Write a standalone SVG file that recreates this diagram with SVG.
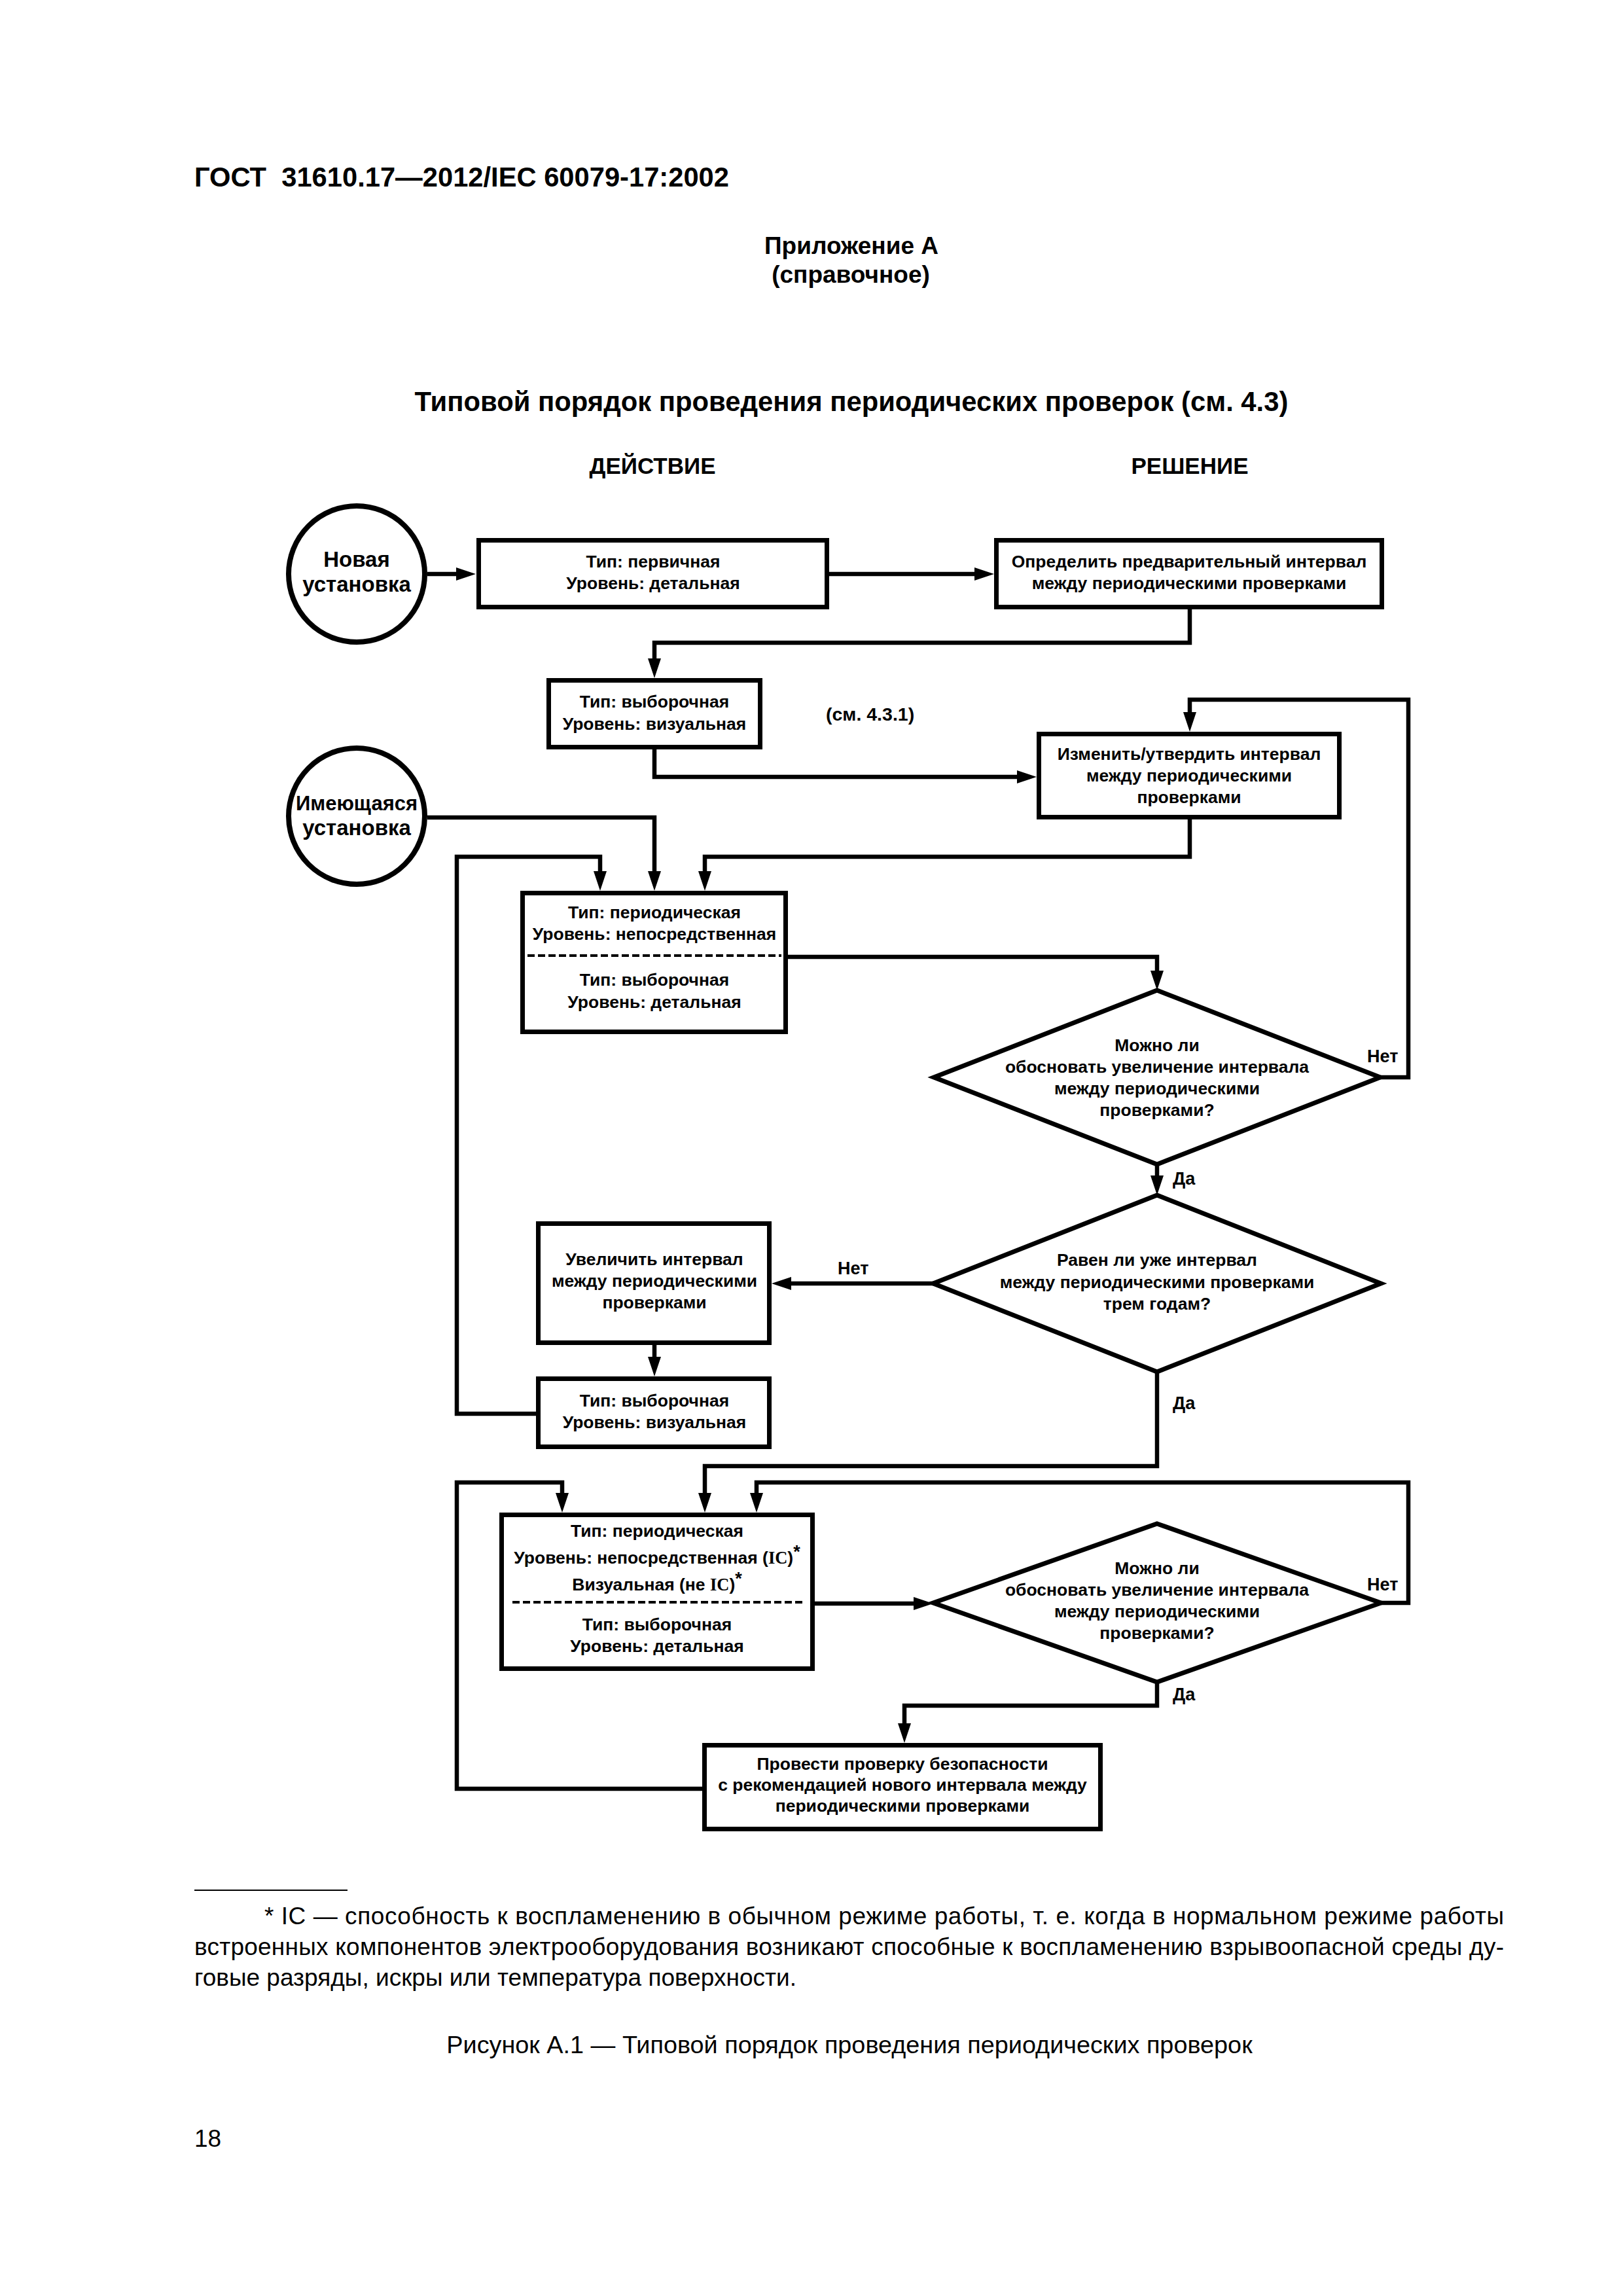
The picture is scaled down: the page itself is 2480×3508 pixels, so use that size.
<svg xmlns="http://www.w3.org/2000/svg" width="2480" height="3508" viewBox="0 0 2480 3508">
<defs>
<style>
.t{font-family:"Liberation Sans",Arial,sans-serif;font-weight:bold;font-size:26.5px;fill:#000;text-anchor:middle}
.c{font-family:"Liberation Sans",Arial,sans-serif;font-weight:bold;font-size:33px;fill:#000;text-anchor:middle}
.lb{font-family:"Liberation Sans",Arial,sans-serif;font-weight:bold;font-size:27px;fill:#000}
.h{font-family:"Liberation Sans",Arial,sans-serif;font-weight:bold;fill:#000}
.r{font-family:"Liberation Sans",Arial,sans-serif;font-size:37px;fill:#000}
.box{fill:#fff;stroke:#000;stroke-width:7}
.circ{fill:#fff;stroke:#000;stroke-width:8}
.dia{fill:#fff;stroke:#000;stroke-width:7;stroke-linejoin:miter}
.dash{stroke:#000;stroke-width:4;stroke-dasharray:11 5}
.ar{fill:none;stroke:#000;stroke-width:6.5;stroke-linejoin:miter;marker-end:url(#ah)}
.sup{font-size:27px}
</style>
<marker id="ah" markerUnits="userSpaceOnUse" markerWidth="30" markerHeight="20" refX="15" refY="10" orient="auto" viewBox="0 0 30 20">
<path d="M0,0 L30,10 L0,20 z" fill="#000"/>
</marker>
</defs>
<rect x="0" y="0" width="2480" height="3508" fill="#fff"/>

<g id="header">
<text class="h" x="297" y="285" style="font-size:41.7px" xml:space="preserve">ГОСТ  31610.17—2012/IEC 60079-17:2002</text>
<text class="h" x="1301" y="388" style="font-size:37px" text-anchor="middle">Приложение А</text>
<text class="h" x="1300" y="432" style="font-size:37px" text-anchor="middle">(справочное)</text>
<text class="h" x="1301" y="628" style="font-size:41.8px" text-anchor="middle">Типовой порядок проведения периодических проверок (см. 4.3)</text>
<text class="h" x="997" y="724" style="font-size:35px" text-anchor="middle">ДЕЙСТВИЕ</text>
<text class="h" x="1818" y="724" style="font-size:35px" text-anchor="middle">РЕШЕНИЕ</text>
</g>

<g id="connectors">
<path class="ar" d="M653,877 H712"/>
<path class="ar" d="M1267,877 H1504"/>
<path class="ar" d="M1818,931 V982 H1000 V1021"/>
<path class="ar" d="M1000,1145 V1187 H1569"/>
<path class="ar" d="M2109,1646 H2152 V1069 H1818 V1103"/>
<path class="ar" d="M653,1249 H1000 V1346"/>
<path class="ar" d="M1818,1252 V1309 H1077 V1346"/>
<path class="ar" d="M819,2160 H698 V1309 H917 V1346"/>
<path class="ar" d="M1204,1462 H1768 V1498"/>
<path class="ar" d="M1768,1779 V1811"/>
<path class="ar" d="M1426,1961 H1194"/>
<path class="ar" d="M1000,2055 V2088"/>
<path class="ar" d="M1768,2096 V2240 H1077 V2296"/>
<path class="ar" d="M1073,2733 H698 V2265 H859 V2296"/>
<path class="ar" d="M2110,2449 H2152 V2265 H1156 V2296"/>
<path class="ar" d="M1245,2450 H1411"/>
<path class="ar" d="M1768,2570 V2606 H1382 V2648"/>
<text class="lb" x="2089" y="1623">Нет</text>
<text class="lb" x="1792" y="1810">Да</text>
<text class="lb" x="1280" y="1947">Нет</text>
<text class="lb" x="1792" y="2153">Да</text>
<text class="lb" x="2089" y="2430">Нет</text>
<text class="lb" x="1792" y="2598">Да</text>
</g>

<g id="n_new">
<circle class="circ" cx="545" cy="877" r="104"/>
<text class="c" x="545" y="866">Новая</text>
<text class="c" x="545" y="904">установка</text>
</g>

<g id="n_primary">
<rect class="box" x="731.5" y="825.5" width="532" height="102"/>
<text class="t" x="998" y="867">Тип: первичная</text>
<text class="t" x="998" y="900">Уровень: детальная</text>
</g>

<g id="n_define">
<rect class="box" x="1522.5" y="825.5" width="589" height="102"/>
<text class="t" x="1817" y="867">Определить предварительный интервал</text>
<text class="t" x="1817" y="900">между периодическими проверками</text>
</g>

<g id="n_sample_visual1">
<rect class="box" x="838.5" y="1039.5" width="323" height="102"/>
<text class="t" x="1000" y="1081">Тип: выборочная</text>
<text class="t" x="1000" y="1115">Уровень: визуальная</text>
</g>

<g id="n_ref">
<text class="lb" x="1262" y="1101" style="font-size:28.5px">(см. 4.3.1)</text>
</g>

<g id="n_change">
<rect class="box" x="1587.5" y="1121.5" width="459" height="127"/>
<text class="t" x="1817" y="1161">Изменить/утвердить интервал</text>
<text class="t" x="1817" y="1194">между периодическими</text>
<text class="t" x="1817" y="1227">проверками</text>
</g>

<g id="n_existing">
<circle class="circ" cx="545" cy="1247" r="104"/>
<text class="c" x="545" y="1238" style="font-size:31px">Имеющаяся</text>
<text class="c" x="545" y="1276">установка</text>
</g>

<g id="n_periodic1">
<rect class="box" x="798.5" y="1364.5" width="402" height="212"/>
<text class="t" x="1000" y="1403">Тип: периодическая</text>
<text class="t" x="1000" y="1436">Уровень: непосредственная</text>
<line class="dash" x1="806" y1="1460" x2="1194" y2="1460"/>
<text class="t" x="1000" y="1506">Тип: выборочная</text>
<text class="t" x="1000" y="1540">Уровень: детальная</text>
</g>

<g id="n_dec1">
<polygon class="dia" points="1768,1513 2109,1646 1768,1779 1427,1646"/>
<text class="t" x="1768" y="1606">Можно ли</text>
<text class="t" x="1768" y="1639">обосновать увеличение интервала</text>
<text class="t" x="1768" y="1672">между периодическими</text>
<text class="t" x="1768" y="1705">проверками?</text>
</g>

<g id="n_dec2">
<polygon class="dia" points="1768,1826 2110,1961 1768,2096 1426,1961"/>
<text class="t" x="1768" y="1934">Равен ли уже интервал</text>
<text class="t" x="1768" y="1968">между периодическими проверками</text>
<text class="t" x="1768" y="2001">трем годам?</text>
</g>

<g id="n_increase">
<rect class="box" x="822.5" y="1869.5" width="353" height="182"/>
<text class="t" x="1000" y="1933">Увеличить интервал</text>
<text class="t" x="1000" y="1966">между периодическими</text>
<text class="t" x="1000" y="1999">проверками</text>
</g>

<g id="n_sample_visual2">
<rect class="box" x="822.5" y="2106.5" width="353" height="104"/>
<text class="t" x="1000" y="2149">Тип: выборочная</text>
<text class="t" x="1000" y="2182">Уровень: визуальная</text>
</g>

<g id="n_periodic2">
<rect class="box" x="766.5" y="2314.5" width="475" height="235"/>
<text class="t" x="1004" y="2348">Тип: периодическая</text>
<text class="t" x="1004" y="2389">Уровень: непосредственная (<tspan font-family="Liberation Serif">IC</tspan>)<tspan class="sup" dy="-9">*</tspan></text>
<text class="t" x="1004" y="2430">Визуальная (не <tspan font-family="Liberation Serif">IC</tspan>)<tspan class="sup" dy="-9">*</tspan></text>
<line class="dash" x1="783" y1="2448" x2="1226" y2="2448"/>
<text class="t" x="1004" y="2491">Тип: выборочная</text>
<text class="t" x="1004" y="2524">Уровень: детальная</text>
</g>

<g id="n_dec3">
<polygon class="dia" points="1768,2328 2110,2449 1768,2570 1426,2449"/>
<text class="t" x="1768" y="2405">Можно ли</text>
<text class="t" x="1768" y="2438">обосновать увеличение интервала</text>
<text class="t" x="1768" y="2471">между периодическими</text>
<text class="t" x="1768" y="2504">проверками?</text>
</g>

<g id="n_safety">
<rect class="box" x="1076.5" y="2666.5" width="605" height="128"/>
<text class="t" x="1379" y="2704">Провести проверку безопасности</text>
<text class="t" x="1379" y="2736">с рекомендацией нового интервала между</text>
<text class="t" x="1379" y="2768">периодическими проверками</text>
</g>

<g id="footer">
<line x1="297" y1="2888" x2="531" y2="2888" stroke="#000" stroke-width="2"/>
<text class="r" x="404" y="2940" textLength="1894" lengthAdjust="spacing">* IC — способность к воспламенению в обычном режиме работы, т. е. когда в нормальном режиме работы</text>
<text class="r" x="297" y="2987" textLength="2001" lengthAdjust="spacing">встроенных компонентов электрооборудования возникают способные к воспламенению взрывоопасной среды ду-</text>
<text class="r" x="297" y="3034">говые разряды, искры или температура поверхности.</text>
<text class="r" x="1298" y="3137" text-anchor="middle" style="font-size:37.8px">Рисунок А.1 — Типовой порядок проведения периодических проверок</text>
<text class="r" x="297" y="3280">18</text>
</g>
</svg>
